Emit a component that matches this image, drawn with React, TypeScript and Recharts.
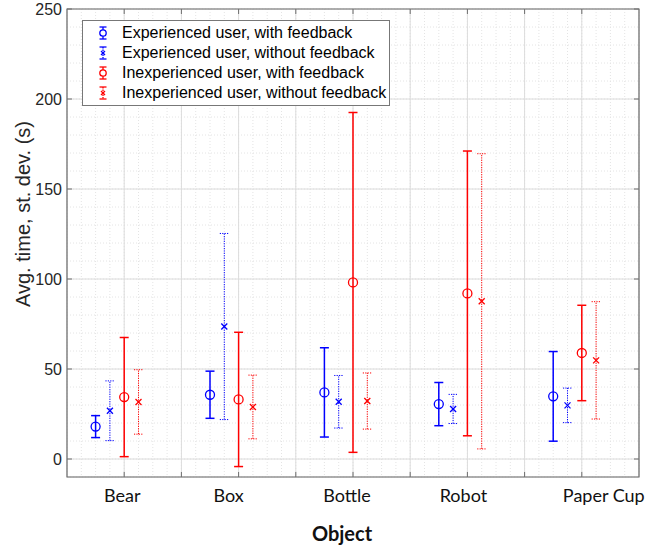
import React from "react";
import { CartesianGrid, ErrorBar, Legend, ReferenceArea, Scatter, ScatterChart, XAxis, YAxis } from "recharts";

// objects on the x axis
const objects = ["Bear", "Box", "Bottle", "Robot", "Paper Cup"];

// avg time (s) and st. dev. per object
const expWithMean = [18, 35.7, 37, 30.5, 34.8];
const expWithSd = [6.1, 13.1, 24.8, 12, 24.9];
const expWithoutMean = [26.8, 73.6, 31.8, 27.8, 29.8];
const expWithoutSd = [16.6, 51.7, 14.6, 8.1, 9.6];
const inexpWithMean = [34.4, 33.1, 98.1, 92, 58.9];
const inexpWithSd = [33.1, 37.3, 94.4, 79.1, 26.5];
const inexpWithoutMean = [31.7, 28.9, 32.2, 87.6, 54.8];
const inexpWithoutSd = [17.9, 17.7, 15.6, 82, 32.6];

const xTicks = [0.5, 1, 1.5, 2, 2.5, 3, 3.5, 4, 4.5, 5, 5.5];
const yTicks = [0, 50, 100, 150, 200, 250];

// layout
const W = 662;
const H = 546;
const PLOT_W = 572;
const PLOT_H = 468;
const BLUE = "#0000ff";
const RED = "#ff0000";
const AXIS = "#6e6e6e";
const labelNudge = [-2, -10, -6, -4, 22];

const steps = (from: number, to: number, step: number) => {
  const out: number[] = [];
  for (let v = from; v <= to + 1e-9; v += step) out.push(Math.round(v * 1000) / 1000);
  return out;
};
const xMinor = steps(0.5, 5.5, 0.125);
const yMinor = steps(-10, 250, 10);

const series = [
  { name: "Experienced user, with feedback", mean: expWithMean, sd: expWithSd, color: BLUE, marker: "o", dotted: false, shift: -0.25 },
  { name: "Experienced user, without feedback", mean: expWithoutMean, sd: expWithoutSd, color: BLUE, marker: "x", dotted: true, shift: -0.125 },
  { name: "Inexperienced user, with feedback", mean: inexpWithMean, sd: inexpWithSd, color: RED, marker: "o", dotted: false, shift: 0 },
  { name: "Inexperienced user, without feedback", mean: inexpWithoutMean, sd: inexpWithoutSd, color: RED, marker: "x", dotted: true, shift: 0.125 },
];

function Marker({ cx, cy, kind, color }: any) {
  if (kind === "o") {
    return <circle cx={cx} cy={cy} r={4.5} fill="none" stroke={color} strokeWidth={1.3} />;
  }
  return (
    <g stroke={color} strokeWidth={1.3}>
      <line x1={cx - 3} y1={cy - 3} x2={cx + 3} y2={cy + 3} />
      <line x1={cx - 3} y1={cy + 3} x2={cx + 3} y2={cy - 3} />
    </g>
  );
}

function XTick({ x, y, payload }: any) {
  const v = payload.value;
  const idx = Number.isInteger(v) ? v - 1 : -1;
  const inner = v > 0.5 && v < 5.5;
  return (
    <g>
      {inner && (
        <g stroke={AXIS} strokeWidth={1}>
          <line x1={x} y1={y} x2={x} y2={y - 5} />
          <line x1={x} y1={y - PLOT_H} x2={x} y2={y - PLOT_H + 5} />
        </g>
      )}
      {idx >= 0 && (
        <text x={x + labelNudge[idx]} y={y + 18} textAnchor="middle" dominantBaseline="central" fontFamily="Lato, 'Open Sans', sans-serif" fontSize={18} fill="#111">
          {objects[idx]}
        </text>
      )}
    </g>
  );
}

function YTick({ x, y, payload }: any) {
  const ax = x + 5;
  return (
    <g>
      <g stroke={AXIS} strokeWidth={1}>
        <line x1={ax} y1={y} x2={ax + 5} y2={y} />
        <line x1={ax + PLOT_W} y1={y} x2={ax + PLOT_W - 5} y2={y} />
      </g>
      <text x={x} y={y} textAnchor="end" dominantBaseline="central" fontSize={16} fill="#262626">
        {payload.value}
      </text>
    </g>
  );
}

function YLabel({ viewBox }: any) {
  const cx = 23;
  const cy = viewBox.y + viewBox.height / 2 - 29;
  return (
    <text x={cx} y={cy} transform={`rotate(-90 ${cx} ${cy})`} textAnchor="middle" dominantBaseline="central" fontSize={20} fill="#262626">
      Avg. time, st. dev. (s)
    </text>
  );
}

function LegendIcon({ color, marker, dotted }: any) {
  return (
    <svg width={14} height={16} style={{ display: "block" }}>
      <g stroke={color} strokeWidth={1.3}>
        <line x1={7} y1={2} x2={7} y2={14} strokeDasharray={dotted ? "1.5 1" : undefined} />
        <line x1={3.5} y1={2} x2={10.5} y2={2} />
        <line x1={3.5} y1={14} x2={10.5} y2={14} />
      </g>
      {marker === "o" ? (
        <circle cx={7} cy={8} r={3.2} fill="white" stroke={color} strokeWidth={1.3} />
      ) : (
        <g stroke={color} strokeWidth={1.3}>
          <line x1={5} y1={6} x2={9} y2={10} />
          <line x1={5} y1={10} x2={9} y2={6} />
        </g>
      )}
    </svg>
  );
}

function LegendBox() {
  return (
    <div style={{ boxSizing: "border-box", width: 308, height: 86, border: "1px solid #777", background: "#fff", padding: "2px 0 0 0", fontFamily: "'Liberation Sans', Arial, sans-serif" }}>
      {series.map((s) => (
        <div key={s.name} style={{ display: "flex", alignItems: "center", height: 20 }}>
          <div style={{ width: 13 }} />
          <LegendIcon color={s.color} marker={s.marker} dotted={s.dotted} />
          <div style={{ width: 12 }} />
          <span style={{ fontSize: 16, color: "#000", whiteSpace: "nowrap" }}>{s.name}</span>
        </div>
      ))}
    </div>
  );
}

export default function App() {
  return (
    <div style={{ position: "absolute", left: 0, top: 0, width: W, height: H, background: "#fff", fontFamily: "'Liberation Sans', Arial, sans-serif" }}>
      <ScatterChart width={W} height={H} margin={{ top: 9, right: 23, bottom: 0, left: 0 }}>
        <CartesianGrid horizontalValues={yMinor} verticalValues={xMinor} stroke="#e4e4e4" strokeDasharray="1 2" />
        <CartesianGrid stroke="#dcdcdc" />
        <XAxis
          type="number"
          dataKey="x"
          domain={[0.5, 5.5]}
          ticks={xTicks}
          interval={0}
          allowDataOverflow
          axisLine={false}
          tickLine={false}
          tickSize={0}
          tickMargin={0}
          height={69}
          tick={<XTick />}
          label={{ value: "Object", position: "insideBottom", offset: 5, dx: -11, style: { fontFamily: "Lato, 'Open Sans', sans-serif", fontWeight: 700, fontSize: 20, fill: "#111" } }}
        />
        <YAxis
          type="number"
          dataKey="y"
          domain={[-10, 250]}
          ticks={yTicks}
          interval={0}
          allowDataOverflow
          axisLine={false}
          tickLine={false}
          tickSize={0}
          tickMargin={5}
          width={67}
          tick={<YTick />}
          label={<YLabel />}
        />
        <ReferenceArea x1={0.5} x2={5.5} y1={-10} y2={250} fill="none" stroke={AXIS} strokeWidth={1.2} ifOverflow="visible" />
        {series.map((s) => (
          <Scatter
            key={s.name}
            name={s.name}
            data={objects.map((_, i) => ({ x: i + 1 + s.shift, y: s.mean[i], err: s.sd[i] }))}
            isAnimationActive={false}
            shape={(p: any) => <Marker cx={p.cx} cy={p.cy} kind={s.marker} color={s.color} />}
          >
            <ErrorBar
              dataKey="err"
              direction="y"
              width={4.5}
              stroke={s.color}
              strokeWidth={s.dotted ? 1 : 1.5}
              strokeDasharray={s.dotted ? "1.2 1.2" : undefined}
              isAnimationActive={false}
            />
          </Scatter>
        ))}
        <Legend layout="vertical" align="center" verticalAlign="middle" wrapperStyle={{ left: 82, top: 20, width: 308, height: 86 }} content={() => <LegendBox />} />
      </ScatterChart>
    </div>
  );
}
